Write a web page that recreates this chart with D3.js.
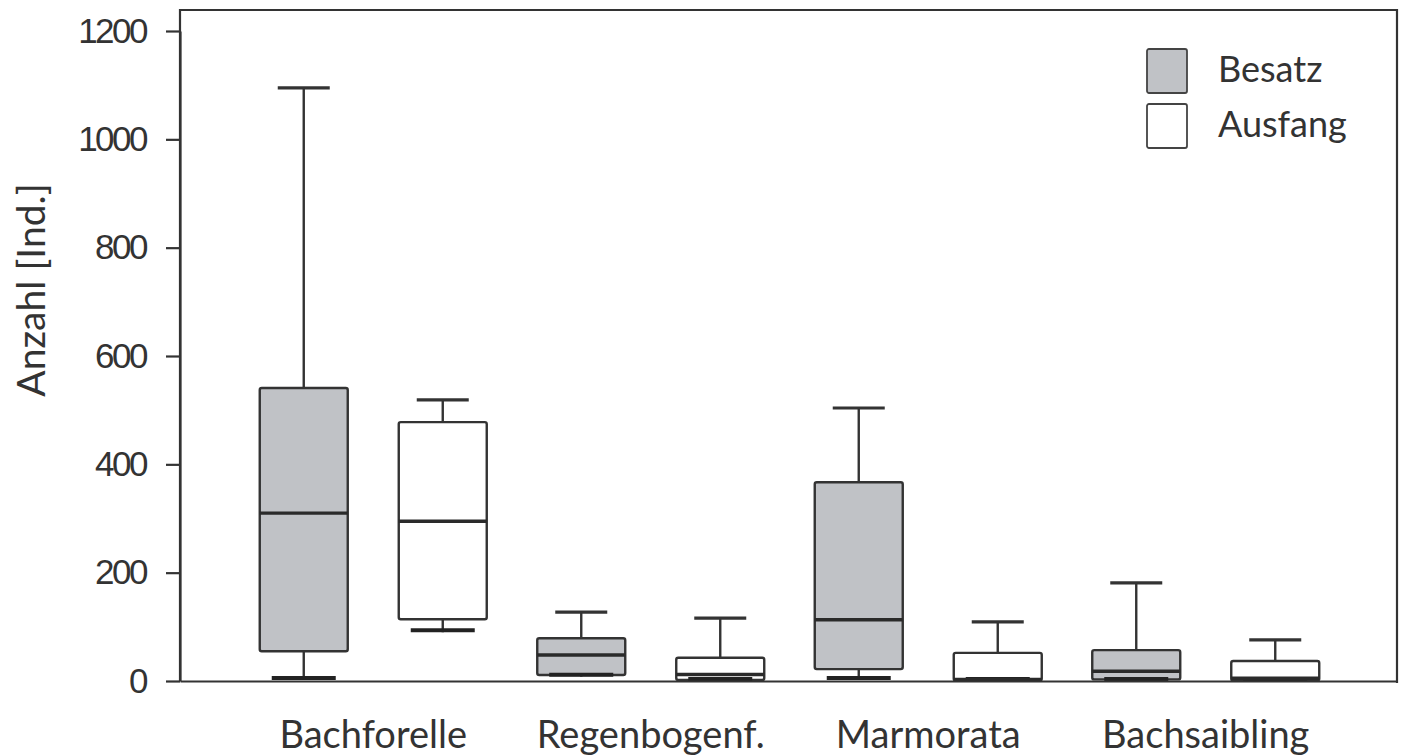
<!DOCTYPE html>
<html>
<head>
<meta charset="utf-8">
<script src="https://cdn.jsdelivr.net/npm/d3@7"></script>
<style>
  body { margin: 0; background: #fff; }
  svg text { fill: #333; }
</style>
</head>
<body>
<div id="chart"></div>
<script>
// categories, series and the box statistics [min, q1, median, q3, max]
const categories = ["Bachforelle", "Regenbogenf.", "Marmorata", "Bachsaibling"];
const seriesNames = ["Besatz", "Ausfang"];
const besatz = [
    [2, 55, 310, 541, 1095],
    [8, 11, 48, 79, 127],
    [2, 22, 113, 367, 504],
    [0, 3, 18, 57, 181]
];
const ausfang = [
    [90, 114, 295, 478, 519],
    [0, 2, 12, 43, 116],
    [0, 1, 3, 52, 109],
    [0, 1, 5, 37, 76]
];
const yTicks = [0, 200, 400, 600, 800, 1000, 1200];
const seriesFill = ["#c0c2c6", "#ffffff"];

const width = 1408, height = 756;
const plotLeft = 180, plotRight = 1397, plotTop = 10, plotBottom = 681;

let svg = d3.select("#chart").append("svg")
    .attr("width", width)
    .attr("height", height);

// y scale: 0..1200
const y = d3.scaleLinear().domain([0, 1200]).range([plotBottom, 31]);

// one band per species, two boxes inside each band
const x = d3.scaleBand().domain(categories).range([234.5, 1344.5]).padding(0);
const inner = d3.scalePoint().domain(seriesNames).range([-69.5, 69.5]);
const boxW = 88;
const capW = 52;

// build a flat table for drawing
let rows = [];
categories.forEach((c, i) => {
    [besatz[i], ausfang[i]].forEach((s, j) => {
        rows.push({cat: c, series: seriesNames[j], min: s[0], q1: s[1], med: s[2], q3: s[3], max: s[4], fill: seriesFill[j]});
    });
});
const groupCenter = c => x(c) + x.bandwidth() / 2;
const cx = d => groupCenter(d.cat) + inner(d.series);

// frame (top + right)
svg.append("path")
    .attr("d", `M${plotLeft},${plotBottom}V${plotTop}H${plotRight}V${plotBottom + 2}`)
    .attr("fill", "none")
    .attr("stroke", "#333")
    .attr("stroke-width", 2.2);

// boxes
let g = svg.append("g");
let box = g.selectAll("g.box").data(rows).join("g").attr("class", "box");

// whiskers
box.append("line")
    .attr("x1", cx).attr("x2", cx)
    .attr("y1", d => y(d.q3)).attr("y2", d => y(d.max))
    .attr("stroke", "#333").attr("stroke-width", 2.4);
box.append("line")
    .attr("x1", cx).attr("x2", cx)
    .attr("y1", d => y(d.q1)).attr("y2", d => y(d.min))
    .attr("stroke", "#333").attr("stroke-width", 2.4);
box.append("line")
    .attr("x1", d => cx(d) - capW / 2).attr("x2", d => cx(d) + capW / 2)
    .attr("y1", d => y(d.max)).attr("y2", d => y(d.max))
    .attr("stroke", "#333").attr("stroke-width", 3.2);

box.append("rect")
    .attr("x", d => cx(d) - boxW / 2)
    .attr("width", boxW)
    .attr("y", d => y(d.q3))
    .attr("height", d => y(d.q1) - y(d.q3))
    .attr("rx", 2)
    .attr("fill", d => d.fill)
    .attr("stroke", "#333")
    .attr("stroke-width", 2.4);

// lower caps drawn after the box so they show on top near zero
box.append("line")
    .attr("x1", d => cx(d) - capW / 2 - 6).attr("x2", d => cx(d) + capW / 2 + 6)
    .attr("y1", d => y(d.min) - 2).attr("y2", d => y(d.min) - 2)
    .attr("stroke", "#222").attr("stroke-width", 4);

box.append("line")
    .attr("x1", d => cx(d) - boxW / 2).attr("x2", d => cx(d) + boxW / 2)
    .attr("y1", d => y(d.med)).attr("y2", d => y(d.med))
    .attr("stroke", "#2a2a2a").attr("stroke-width", 3.4);

// y axis
let yAxis = svg.append("g")
    .attr("transform", `translate(${plotLeft},0)`)
    .call(d3.axisLeft(y).tickValues(yTicks).tickFormat(d3.format("d")).tickSize(14).tickSizeOuter(0).tickPadding(20));
yAxis.select(".domain").attr("stroke", "#333").attr("stroke-width", 2.2);
yAxis.selectAll(".tick line").attr("stroke", "#333").attr("stroke-width", 2.2);
yAxis.selectAll(".tick text")
    .attr("font-family", "Liberation Sans, Arial, sans-serif")
    .attr("font-size", 35)
    .attr("letter-spacing", -2.5)
    .attr("fill", "#333");

// x axis line (no ticks)
let xAxis = svg.append("g")
    .attr("transform", `translate(0,${plotBottom})`)
    .call(d3.axisBottom(d3.scaleLinear().range([plotLeft, plotRight])).ticks(0).tickSizeOuter(0));
xAxis.select(".domain").attr("stroke", "#333").attr("stroke-width", 2.2);

// category labels
svg.append("g").selectAll("text")
    .data(categories)
    .join("text")
    .attr("x", d => groupCenter(d))
    .attr("y", 748)
    .attr("text-anchor", "middle")
    .attr("font-family", "Lato, Open Sans, sans-serif")
    .attr("font-size", 38)
    .text(d => d);

// y label
svg.append("text")
    .attr("transform", "translate(45,290) rotate(-90)")
    .attr("text-anchor", "middle")
    .attr("font-family", "Lato, Open Sans, sans-serif")
    .attr("font-size", 39)
    .text("Anzahl [Ind.]");

// legend
let legend = svg.append("g").selectAll("g")
    .data(seriesNames)
    .join("g")
    .attr("transform", (d, i) => `translate(1147,${49 + i * 55})`);
legend.append("rect")
    .attr("width", 40).attr("height", 44).attr("rx", 2)
    .attr("fill", (d, i) => seriesFill[i])
    .attr("stroke", "#444").attr("stroke-width", 1.8);
legend.append("text")
    .attr("x", 71).attr("y", 33)
    .attr("font-family", "Lato, Open Sans, sans-serif")
    .attr("font-size", 36)
    .text(d => d);
</script>
</body>
</html>
